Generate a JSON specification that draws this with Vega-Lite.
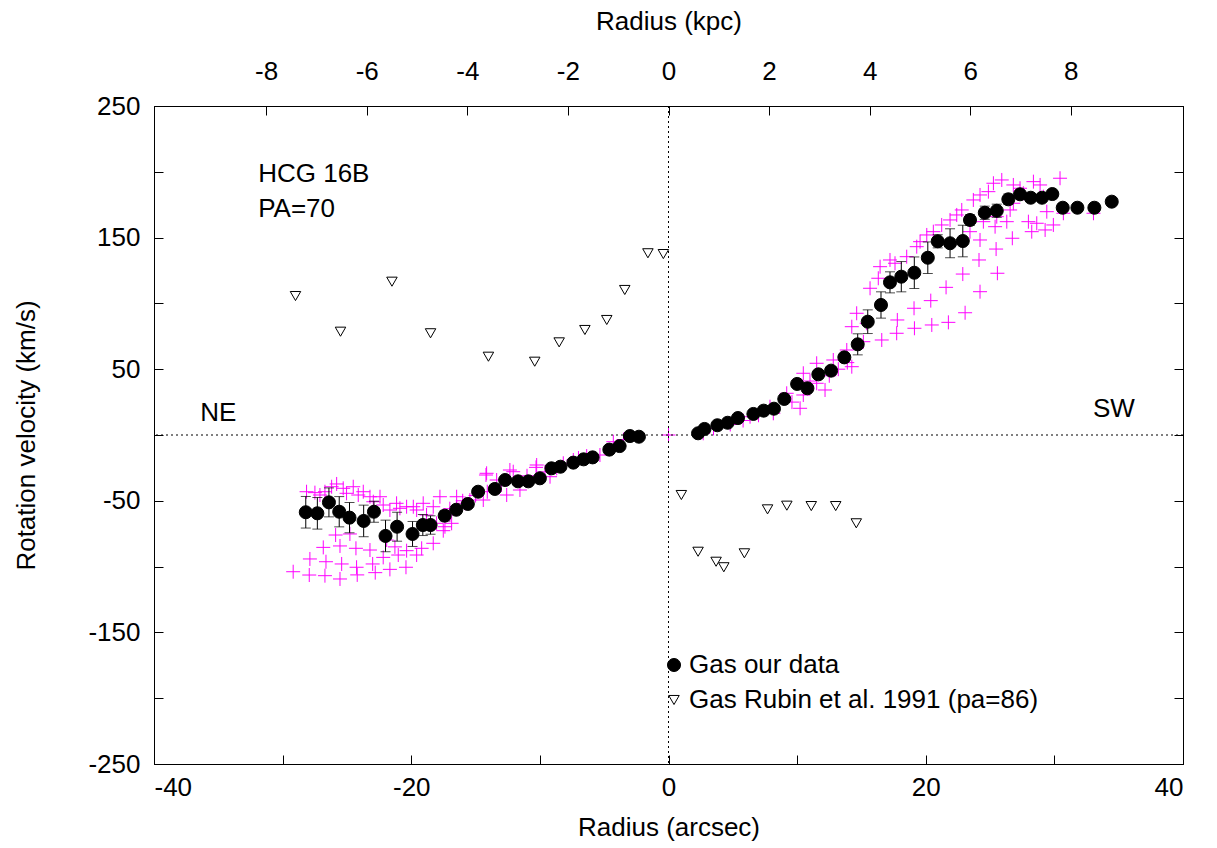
{
  "$schema": "https://vega.github.io/schema/vega-lite/v6.json",
  "width": 1029,
  "height": 658,
  "autosize": {"type": "none"},
  "padding": {"left": 154, "top": 106, "right": 34, "bottom": 84},
  "background": "white",
  "config": {
    "font": "Liberation Sans",
    "view": {"stroke": "black", "strokeWidth": 1},
    "axis": {
      "domainColor": "black", "tickColor": "black", "labelColor": "black", "titleColor": "black",
      "labelFont": "Liberation Sans", "titleFont": "Liberation Sans",
      "labelFontSize": 26, "titleFontSize": 26, "titleFontWeight": "normal",
      "grid": false, "tickSize": -9, "labelPadding": 8
    },
    "legend": {"labelFont": "Liberation Sans", "labelFontSize": 26, "labelColor": "black", "labelLimit": 0}
  },
  "datasets": {
    "zero": [{"r": 0, "v": 0}],
    "ours": [
      {"s": "Gas our data", "r": -28.2, "v": -58.7, "lo": -70.7, "hi": -46.7},
      {"s": "Gas our data", "r": -27.3, "v": -59.5, "lo": -71.5, "hi": -47.5},
      {"s": "Gas our data", "r": -26.4, "v": -51.2, "lo": -62.2, "hi": -40.2},
      {"s": "Gas our data", "r": -25.6, "v": -58.3, "lo": -69.8, "hi": -46.8},
      {"s": "Gas our data", "r": -24.8, "v": -62.8, "lo": -74.3, "hi": -51.3},
      {"s": "Gas our data", "r": -23.7, "v": -65.3, "lo": -77.3, "hi": -53.3},
      {"s": "Gas our data", "r": -22.9, "v": -58.3, "lo": -66.3, "hi": -50.3},
      {"s": "Gas our data", "r": -22.0, "v": -76.7, "lo": -88.7, "hi": -64.7},
      {"s": "Gas our data", "r": -21.1, "v": -69.7, "lo": -80.7, "hi": -58.7},
      {"s": "Gas our data", "r": -19.9, "v": -75.2, "lo": -84.7, "hi": -65.7},
      {"s": "Gas our data", "r": -19.1, "v": -68.4, "lo": -76.4, "hi": -60.4},
      {"s": "Gas our data", "r": -18.5, "v": -68.4, "lo": -75.4, "hi": -61.4},
      {"s": "Gas our data", "r": -17.4, "v": -61.3, "lo": -65.3, "hi": -57.3},
      {"s": "Gas our data", "r": -16.5, "v": -56.8, "lo": -59.8, "hi": -53.8},
      {"s": "Gas our data", "r": -15.6, "v": -52.4, "lo": -55.4, "hi": -49.4},
      {"s": "Gas our data", "r": -14.8, "v": -43.1, "lo": -46.1, "hi": -40.1},
      {"s": "Gas our data", "r": -13.5, "v": -41.0, "lo": -44.0, "hi": -38.0},
      {"s": "Gas our data", "r": -12.7, "v": -34.2, "lo": -37.2, "hi": -31.2},
      {"s": "Gas our data", "r": -11.7, "v": -35.2, "lo": -37.2, "hi": -33.2},
      {"s": "Gas our data", "r": -10.9, "v": -35.2, "lo": -37.2, "hi": -33.2},
      {"s": "Gas our data", "r": -10.0, "v": -32.9, "lo": -34.9, "hi": -30.9},
      {"s": "Gas our data", "r": -9.1, "v": -25.3, "lo": -27.3, "hi": -23.3},
      {"s": "Gas our data", "r": -8.4, "v": -24.1, "lo": -26.1, "hi": -22.1},
      {"s": "Gas our data", "r": -7.4, "v": -21.0, "lo": -23.0, "hi": -19.0},
      {"s": "Gas our data", "r": -6.6, "v": -18.5, "lo": -20.5, "hi": -16.5},
      {"s": "Gas our data", "r": -5.9, "v": -17.0, "lo": -19.0, "hi": -15.0},
      {"s": "Gas our data", "r": -4.6, "v": -11.1, "lo": -13.1, "hi": -9.1},
      {"s": "Gas our data", "r": -3.8, "v": -8.4, "lo": -10.4, "hi": -6.4},
      {"s": "Gas our data", "r": -3.0, "v": -0.8, "lo": -2.8, "hi": 1.2},
      {"s": "Gas our data", "r": -2.3, "v": -1.3, "lo": -3.3, "hi": 0.7},
      {"s": "Gas our data", "r": 2.3, "v": 1.3, "lo": -0.7, "hi": 3.3},
      {"s": "Gas our data", "r": 2.8, "v": 4.6, "lo": 2.6, "hi": 6.6},
      {"s": "Gas our data", "r": 3.8, "v": 7.4, "lo": 5.4, "hi": 9.4},
      {"s": "Gas our data", "r": 4.6, "v": 9.3, "lo": 7.3, "hi": 11.3},
      {"s": "Gas our data", "r": 5.4, "v": 12.9, "lo": 10.9, "hi": 14.9},
      {"s": "Gas our data", "r": 6.6, "v": 16.0, "lo": 14.0, "hi": 18.0},
      {"s": "Gas our data", "r": 7.4, "v": 18.5, "lo": 16.5, "hi": 20.5},
      {"s": "Gas our data", "r": 8.2, "v": 20.0, "lo": 18.0, "hi": 22.0},
      {"s": "Gas our data", "r": 9.0, "v": 27.4, "lo": 25.4, "hi": 29.4},
      {"s": "Gas our data", "r": 10.0, "v": 38.8, "lo": 36.8, "hi": 40.8},
      {"s": "Gas our data", "r": 10.8, "v": 35.5, "lo": 33.5, "hi": 37.5},
      {"s": "Gas our data", "r": 11.65, "v": 46.1, "lo": 43.1, "hi": 49.1},
      {"s": "Gas our data", "r": 12.64, "v": 48.9, "lo": 45.9, "hi": 51.9},
      {"s": "Gas our data", "r": 13.67, "v": 59.0, "lo": 56.0, "hi": 62.0},
      {"s": "Gas our data", "r": 14.71, "v": 68.9, "lo": 60.9, "hi": 76.9},
      {"s": "Gas our data", "r": 15.49, "v": 86.1, "lo": 77.1, "hi": 95.1},
      {"s": "Gas our data", "r": 16.52, "v": 98.8, "lo": 88.8, "hi": 108.8},
      {"s": "Gas our data", "r": 17.22, "v": 116.0, "lo": 108.0, "hi": 124.0},
      {"s": "Gas our data", "r": 18.1, "v": 120.3, "lo": 108.8, "hi": 131.8},
      {"s": "Gas our data", "r": 19.11, "v": 123.3, "lo": 111.3, "hi": 135.3},
      {"s": "Gas our data", "r": 20.16, "v": 134.7, "lo": 122.7, "hi": 146.7},
      {"s": "Gas our data", "r": 20.93, "v": 147.2, "lo": 142.2, "hi": 152.2},
      {"s": "Gas our data", "r": 21.89, "v": 145.7, "lo": 134.7, "hi": 156.7},
      {"s": "Gas our data", "r": 22.88, "v": 147.4, "lo": 135.4, "hi": 159.4},
      {"s": "Gas our data", "r": 23.44, "v": 163.4, "lo": 159.4, "hi": 167.4},
      {"s": "Gas our data", "r": 24.59, "v": 168.9, "lo": 163.9, "hi": 173.9},
      {"s": "Gas our data", "r": 25.52, "v": 170.4, "lo": 165.4, "hi": 175.4},
      {"s": "Gas our data", "r": 26.42, "v": 179.1, "lo": 175.1, "hi": 183.1},
      {"s": "Gas our data", "r": 27.33, "v": 182.9, "lo": 179.9, "hi": 185.9},
      {"s": "Gas our data", "r": 28.16, "v": 180.3, "lo": 177.3, "hi": 183.3},
      {"s": "Gas our data", "r": 29.04, "v": 180.3, "lo": 177.3, "hi": 183.3},
      {"s": "Gas our data", "r": 29.84, "v": 183.1, "lo": 180.1, "hi": 186.1},
      {"s": "Gas our data", "r": 30.65, "v": 172.7, "lo": 169.7, "hi": 175.7},
      {"s": "Gas our data", "r": 31.79, "v": 172.7, "lo": 169.7, "hi": 175.7},
      {"s": "Gas our data", "r": 33.11, "v": 172.7, "lo": 169.7, "hi": 175.7},
      {"s": "Gas our data", "r": 34.46, "v": 177.3, "lo": 174.3, "hi": 180.3}
    ],
    "rubin": [
      {"s": "Gas Rubin et al. 1991 (pa=86)", "r": -29.0, "v": 105.6},
      {"s": "Gas Rubin et al. 1991 (pa=86)", "r": -25.5, "v": 78.5},
      {"s": "Gas Rubin et al. 1991 (pa=86)", "r": -21.5, "v": 116.5},
      {"s": "Gas Rubin et al. 1991 (pa=86)", "r": -18.5, "v": 77.3},
      {"s": "Gas Rubin et al. 1991 (pa=86)", "r": -14.0, "v": 59.5},
      {"s": "Gas Rubin et al. 1991 (pa=86)", "r": -10.4, "v": 55.7},
      {"s": "Gas Rubin et al. 1991 (pa=86)", "r": -8.5, "v": 70.4},
      {"s": "Gas Rubin et al. 1991 (pa=86)", "r": -6.5, "v": 79.8},
      {"s": "Gas Rubin et al. 1991 (pa=86)", "r": -4.8, "v": 87.4},
      {"s": "Gas Rubin et al. 1991 (pa=86)", "r": -3.4, "v": 110.2},
      {"s": "Gas Rubin et al. 1991 (pa=86)", "r": -1.6, "v": 138.1},
      {"s": "Gas Rubin et al. 1991 (pa=86)", "r": -0.4, "v": 137.5},
      {"s": "Gas Rubin et al. 1991 (pa=86)", "r": 1.0, "v": -45.6},
      {"s": "Gas Rubin et al. 1991 (pa=86)", "r": 2.3, "v": -88.7},
      {"s": "Gas Rubin et al. 1991 (pa=86)", "r": 3.7, "v": -96.3},
      {"s": "Gas Rubin et al. 1991 (pa=86)", "r": 4.3, "v": -100.5},
      {"s": "Gas Rubin et al. 1991 (pa=86)", "r": 5.9, "v": -89.9},
      {"s": "Gas Rubin et al. 1991 (pa=86)", "r": 7.7, "v": -56.5},
      {"s": "Gas Rubin et al. 1991 (pa=86)", "r": 9.2, "v": -53.7},
      {"s": "Gas Rubin et al. 1991 (pa=86)", "r": 11.1, "v": -54.0},
      {"s": "Gas Rubin et al. 1991 (pa=86)", "r": 13.0, "v": -54.0},
      {"s": "Gas Rubin et al. 1991 (pa=86)", "r": 14.6, "v": -67.1}
    ],
    "crosses": [
      {"r": -29.18, "v": -103.9}, {"r": -27.88, "v": -94.2}, {"r": -27.93, "v": -106.4}, {"r": -26.84, "v": -85.4},
      {"r": -26.63, "v": -96.3}, {"r": -26.71, "v": -106.9}, {"r": -25.54, "v": -84.3}, {"r": -25.41, "v": -98.0},
      {"r": -25.54, "v": -109.4}, {"r": -24.3, "v": -86.1}, {"r": -24.25, "v": -100.5}, {"r": -24.2, "v": -106.3},
      {"r": -23.21, "v": -87.4}, {"r": -23.0, "v": -98.0}, {"r": -22.8, "v": -104.6}, {"r": -21.66, "v": -102.1},
      {"r": -20.41, "v": -100.5}, {"r": -22.18, "v": -93.0}, {"r": -21.01, "v": -91.2}, {"r": -20.36, "v": -87.9},
      {"r": -19.58, "v": -91.2}, {"r": -19.19, "v": -86.1}, {"r": -18.29, "v": -82.3}, {"r": -17.51, "v": -72.7},
      {"r": -17.38, "v": -69.7}, {"r": -16.86, "v": -67.1}, {"r": -25.88, "v": -76.0}, {"r": -24.77, "v": -75.2},
      {"r": -21.91, "v": -79.8}, {"r": -21.27, "v": -85.0},
      {"r": -28.14, "v": -43.1}, {"r": -27.49, "v": -43.8}, {"r": -27.1, "v": -45.6}, {"r": -26.71, "v": -43.1},
      {"r": -26.19, "v": -39.3}, {"r": -25.8, "v": -37.2}, {"r": -25.29, "v": -40.5}, {"r": -25.03, "v": -44.3},
      {"r": -24.51, "v": -39.3}, {"r": -24.12, "v": -45.6}, {"r": -23.73, "v": -43.1}, {"r": -23.21, "v": -46.9},
      {"r": -22.95, "v": -50.7}, {"r": -22.43, "v": -46.9}, {"r": -22.18, "v": -53.2}, {"r": -21.66, "v": -57.0},
      {"r": -21.14, "v": -51.9}, {"r": -20.88, "v": -55.7}, {"r": -20.36, "v": -54.5}, {"r": -19.84, "v": -54.5},
      {"r": -19.58, "v": -57.0}, {"r": -19.07, "v": -51.9}, {"r": -18.81, "v": -60.8}, {"r": -18.29, "v": -54.5},
      {"r": -17.77, "v": -46.9}, {"r": -18.03, "v": -67.1}, {"r": -16.99, "v": -60.8}, {"r": -16.47, "v": -54.5},
      {"r": -15.82, "v": -51.9}, {"r": -15.44, "v": -49.4}, {"r": -14.4, "v": -49.4}, {"r": -14.14, "v": -29.1},
      {"r": -13.36, "v": -34.2},
      {"r": -14.19, "v": -30.4}, {"r": -12.33, "v": -26.6}, {"r": -12.07, "v": -27.9}, {"r": -10.3, "v": -24.6},
      {"r": -10.25, "v": -22.8}, {"r": -8.18, "v": -21.5}, {"r": -8.69, "v": -25.3}, {"r": -4.29, "v": -5.1},
      {"r": -16.47, "v": -46.9}, {"r": -12.58, "v": -45.6}, {"r": -11.55, "v": -41.8}, {"r": -14.09, "v": -43.1},
      {"r": -9.21, "v": -31.7}, {"r": -5.33, "v": -15.2}, {"r": -7.4, "v": -19.0}, {"r": -6.36, "v": -16.0},
      {"r": -11.0, "v": -31.0}, {"r": -9.6, "v": -28.0}, {"r": -7.0, "v": -17.5}, {"r": -3.5, "v": -3.5},
      {"r": -13.0, "v": -38.0}, {"r": -15.0, "v": -46.0}, {"r": -16.0, "v": -50.0}, {"r": -17.0, "v": -56.0},
      {"r": 0, "v": 0},
      {"r": 2.7, "v": 1.3}, {"r": 6.34, "v": 13.9}, {"r": 8.15, "v": 16.5}, {"r": 7.89, "v": 21.5},
      {"r": 9.19, "v": 31.7}, {"r": 10.23, "v": 20.3}, {"r": 10.48, "v": 30.4}, {"r": 12.17, "v": 34.2},
      {"r": 11.52, "v": 39.3}, {"r": 3.5, "v": 5.0}, {"r": 4.8, "v": 8.0}, {"r": 5.8, "v": 11.0},
      {"r": 7.0, "v": 15.0}, {"r": 9.6, "v": 25.0}, {"r": 11.0, "v": 41.0}, {"r": 12.5, "v": 45.0},
      {"r": 13.2, "v": 50.0}, {"r": 13.9, "v": 55.0},
      {"r": 16.58, "v": 72.2}, {"r": 17.74, "v": 77.3}, {"r": 19.12, "v": 81.1}, {"r": 20.47, "v": 83.6},
      {"r": 21.76, "v": 85.6}, {"r": 23.06, "v": 92.9}, {"r": 24.22, "v": 108.9}, {"r": 25.57, "v": 122.9},
      {"r": 22.88, "v": 122.3}, {"r": 21.58, "v": 112.2}, {"r": 20.39, "v": 102.1}, {"r": 19.09, "v": 96.3},
      {"r": 17.79, "v": 87.4}, {"r": 24.14, "v": 133.0}, {"r": 25.47, "v": 141.3}, {"r": 26.73, "v": 149.5},
      {"r": 28.24, "v": 154.5}, {"r": 29.28, "v": 155.8}, {"r": 29.92, "v": 159.6}, {"r": 27.98, "v": 162.1},
      {"r": 28.63, "v": 160.9}, {"r": 29.41, "v": 169.7}, {"r": 24.22, "v": 148.2}, {"r": 25.39, "v": 158.3},
      {"r": 26.3, "v": 162.1},
      {"r": 14.63, "v": 92.5}, {"r": 14.25, "v": 82.3}, {"r": 15.41, "v": 84.9}, {"r": 15.67, "v": 111.5},
      {"r": 16.31, "v": 119.1}, {"r": 16.45, "v": 127.9}, {"r": 17.22, "v": 133.0}, {"r": 17.61, "v": 130.5},
      {"r": 18.52, "v": 135.5}, {"r": 19.3, "v": 143.1}, {"r": 19.56, "v": 146.9}, {"r": 20.08, "v": 152.0},
      {"r": 20.59, "v": 154.5}, {"r": 21.24, "v": 159.6}, {"r": 21.89, "v": 163.4}, {"r": 22.41, "v": 167.2},
      {"r": 22.8, "v": 171.0}, {"r": 23.7, "v": 178.6}, {"r": 24.22, "v": 182.4}, {"r": 24.87, "v": 184.9},
      {"r": 25.26, "v": 191.3}, {"r": 25.91, "v": 193.8}, {"r": 26.81, "v": 190.0}, {"r": 27.33, "v": 187.5},
      {"r": 28.37, "v": 192.5}, {"r": 28.89, "v": 190.0}, {"r": 29.15, "v": 181.1}, {"r": 30.44, "v": 195.1},
      {"r": 26.81, "v": 176.1}, {"r": 27.59, "v": 183.7}, {"r": 23.44, "v": 154.5}, {"r": 24.48, "v": 162.1},
      {"r": 25.52, "v": 165.9}, {"r": 26.56, "v": 171.0}, {"r": 11.52, "v": 54.5}, {"r": 10.48, "v": 46.9},
      {"r": 12.81, "v": 57.0}, {"r": 13.86, "v": 64.6}, {"r": 14.25, "v": 51.9}, {"r": 15.15, "v": 70.9},
      {"r": 33.04, "v": 168.5}, {"r": 30.7, "v": 168.5}
    ],
    "notes": [
      {"r": -31.9, "v": 192.5, "t": "HCG 16B"},
      {"r": -31.9, "v": 165.4, "t": "PA=70"},
      {"r": -36.4, "v": 10.3, "t": "NE"},
      {"r": 33.0, "v": 13.3, "t": "SW"}
    ]
  },
  "resolve": {"axis": {"x": "independent", "y": "independent"}},
  "layer": [
    {
      "data": {"name": "crosses"},
      "mark": {"type": "point", "shape": "M-1,0L1,0M0,-1L0,1", "size": 196, "filled": false, "stroke": "#ff00ff", "strokeWidth": 1, "opacity": 1},
      "encoding": {
        "x": {"field": "r", "type": "quantitative", "scale": {"domain": [-40, 40], "nice": false, "zero": false},
          "axis": {"orient": "bottom", "values": [-40, -30, -20, -10, 0, 10, 20, 30, 40],
            "labelExpr": "datum.value % 20 == 0 ? '' + datum.value : ''", "title": "Radius (arcsec)", "labelPadding": 19, "titlePadding": 14}},
        "y": {"field": "v", "type": "quantitative", "scale": {"domain": [-250, 250], "nice": false, "zero": false},
          "axis": {"orient": "left", "values": [-250, -200, -150, -100, -50, 0, 50, 100, 150, 200, 250],
            "labelExpr": "(datum.value - 250) % 100 == 0 ? '' + datum.value : ''", "title": "Rotation velocity (km/s)", "labelPadding": 23, "titlePadding": 48}}
      }
    },
    {
      "data": {"name": "zero"},
      "mark": {"type": "rule", "color": "black", "strokeWidth": 1, "strokeDash": [2, 3]},
      "encoding": {"x": {"field": "r", "type": "quantitative", "axis": {"orient": "top", "values": [-31.28, -23.46, -15.64, -7.82, 0, 7.82, 15.64, 23.46, 31.28],
            "labelExpr": "'' + round(datum.value / 3.91)", "title": "Radius (kpc)", "labelPadding": 31, "titlePadding": 24}}}
    },
    {
      "data": {"name": "zero"},
      "mark": {"type": "rule", "color": "black", "strokeWidth": 1, "strokeDash": [2, 3]},
      "encoding": {"y": {"field": "v", "type": "quantitative", "axis": {"orient": "right", "values": [-250, -200, -150, -100, -50, 0, 50, 100, 150, 200, 250], "labels": false, "title": null}}}
    },
    {
      "data": {"name": "ours"},
      "mark": {"type": "rule", "color": "black", "strokeWidth": 1},
      "encoding": {
        "x": {"field": "r", "type": "quantitative", "axis": null},
        "y": {"field": "lo", "type": "quantitative", "axis": null},
        "y2": {"field": "hi"}
      }
    },
    {
      "data": {"name": "ours"},
      "mark": {"type": "tick", "orient": "horizontal", "color": "black", "size": 10, "thickness": 1},
      "encoding": {
        "x": {"field": "r", "type": "quantitative", "axis": null},
        "y": {"field": "lo", "type": "quantitative", "axis": null}
      }
    },
    {
      "data": {"name": "ours"},
      "mark": {"type": "tick", "orient": "horizontal", "color": "black", "size": 10, "thickness": 1},
      "encoding": {
        "x": {"field": "r", "type": "quantitative", "axis": null},
        "y": {"field": "hi", "type": "quantitative", "axis": null}
      }
    },
    {
      "data": {"name": "ours"},
      "mark": {"type": "point", "filled": true, "stroke": "black", "strokeWidth": 1, "opacity": 1},
      "encoding": {
        "x": {"field": "r", "type": "quantitative", "axis": null},
        "y": {"field": "v", "type": "quantitative", "axis": null},
        "shape": {"field": "s", "type": "nominal", "scale": {"domain": ["Gas our data", "Gas Rubin et al. 1991 (pa=86)"], "range": ["circle", "triangle-down"]},
          "legend": {"orient": "none", "legendX": 507, "legendY": 546, "title": null, "symbolStrokeColor": "black", "symbolStrokeWidth": 1, "rowPadding": 9, "labelOffset": 2, "padding": 0, "labelLimit": 0}},
        "fill": {"field": "s", "type": "nominal", "scale": {"domain": ["Gas our data", "Gas Rubin et al. 1991 (pa=86)"], "range": ["black", "white"]}},
        "size": {"field": "s", "type": "nominal", "scale": {"domain": ["Gas our data", "Gas Rubin et al. 1991 (pa=86)"], "range": [170, 110]}}
      }
    },
    {
      "data": {"name": "rubin"},
      "mark": {"type": "point", "filled": true, "stroke": "black", "strokeWidth": 1, "opacity": 1},
      "encoding": {
        "x": {"field": "r", "type": "quantitative", "axis": null},
        "y": {"field": "v", "type": "quantitative", "axis": null},
        "shape": {"field": "s", "type": "nominal"},
        "fill": {"field": "s", "type": "nominal"},
        "size": {"field": "s", "type": "nominal"}
      }
    },
    {
      "data": {"name": "notes"},
      "mark": {"type": "text", "align": "left", "baseline": "alphabetic", "font": "Liberation Sans", "fontSize": 26, "color": "black"},
      "encoding": {
        "x": {"field": "r", "type": "quantitative", "axis": null},
        "y": {"field": "v", "type": "quantitative", "axis": null},
        "text": {"field": "t"}
      }
    }
  ]
}
